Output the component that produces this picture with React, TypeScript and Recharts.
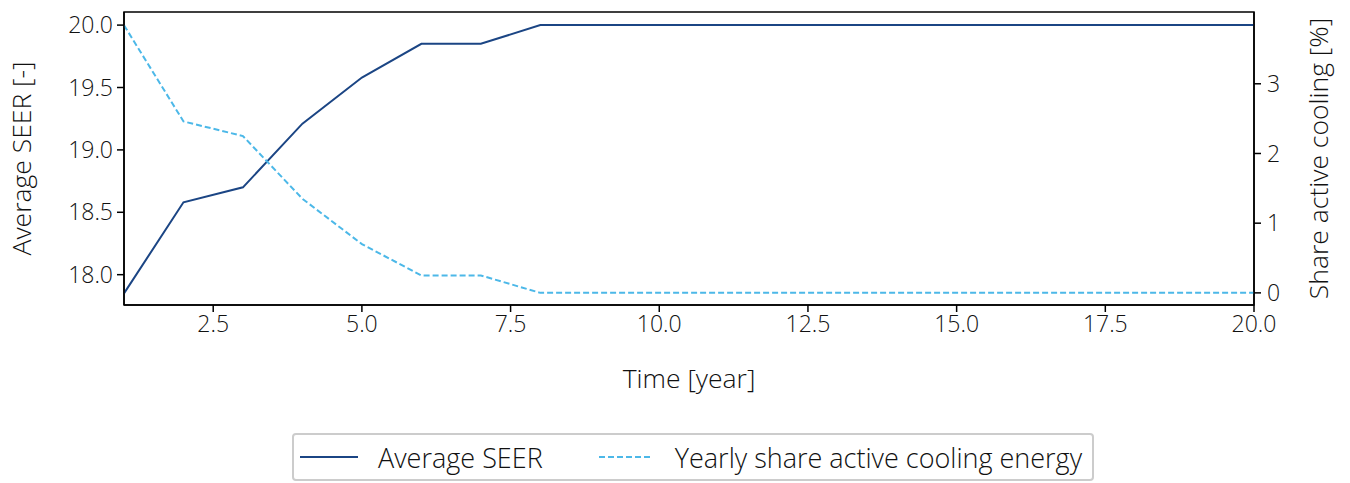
import {
  LineChart,
  Line,
  XAxis,
  YAxis,
  Legend,
  ReferenceArea,
} from "recharts";

const years = [1, 2, 3, 4, 5, 6, 7, 8, 9, 10, 11, 12, 13, 14, 15, 16, 17, 18, 19, 20];
const avgSeer = [17.85, 18.58, 18.7, 19.21, 19.58, 19.85, 19.85, 20, 20, 20, 20, 20, 20, 20, 20, 20, 20, 20, 20, 20];
const coolingShare = [3.84, 2.46, 2.25, 1.35, 0.7, 0.25, 0.25, 0, 0, 0, 0, 0, 0, 0, 0, 0, 0, 0, 0, 0];

const xTicks = [2.5, 5, 7.5, 10, 12.5, 15, 17.5, 20];
const leftTicks = [18, 18.5, 19, 19.5, 20];
const rightTicks = [0, 1, 2, 3];

const data = years.map((year, i) => ({
  year,
  seer: avgSeer[i],
  share: coolingShare[i],
}));

const FONT = "'Open Sans', 'DejaVu Sans', sans-serif";
const DARK = "#1b4584";
const LIGHT = "#4cb8e8";
const tickStyle = { fontSize: 23, fill: "#111", fontFamily: FONT, fontWeight: 300 };
const labelStyle = { ...tickStyle, fontSize: 26.5, textAnchor: "middle" as const };

const LegendBox = () => (
  <div
    style={{
      display: "flex",
      alignItems: "center",
      boxSizing: "border-box",
      height: 48,
      border: "2px solid #ccc",
      borderRadius: 4,
      padding: "0 10px 0 6px",
      fontFamily: FONT,
      fontWeight: 300,
      fontSize: 27,
      color: "#111",
      background: "#fff",
      width: "fit-content",
      whiteSpace: "nowrap",
    }}
  >
    <svg width={58} height={10}>
      <line x1={0} y1={5} x2={58} y2={5} stroke={DARK} strokeWidth={2} />
    </svg>
    <span style={{ marginLeft: 20, marginRight: 56 }}>Average SEER</span>
    <svg width={54} height={10}>
      <line x1={0} y1={5} x2={54} y2={5} stroke={LIGHT} strokeWidth={2} strokeDasharray="6 3" />
    </svg>
    <span style={{ marginLeft: 22 }}>Yearly share active cooling energy</span>
  </div>
);

const App = () => {
  return (
    <div style={{ position: "fixed", left: 0, top: 0, background: "#fff" }}>
      <LineChart
        width={1350}
        height={483}
        data={data}
        margin={{ top: 12, right: 0, left: 0, bottom: 0 }}
      >
        <XAxis
          dataKey="year"
          type="number"
          domain={[1, 20]}
          ticks={xTicks}
          tickFormatter={(v: number) => v.toFixed(1)}
          tick={tickStyle}
          tickSize={7}
          tickMargin={4}
          axisLine={{ stroke: "#000", strokeWidth: 1.5 }}
          tickLine={{ stroke: "#000", strokeWidth: 1.5 }}
          height={130}
          allowDataOverflow
          label={{
            value: "Time [year]",
            position: "insideTop",
            offset: 64,
            style: labelStyle,
          }}
        />
        <YAxis
          yAxisId="left"
          domain={[17.757, 20.105]}
          ticks={leftTicks}
          tickFormatter={(v: number) => v.toFixed(1)}
          tick={tickStyle}
          tickSize={7}
          tickMargin={4}
          width={124}
          allowDataOverflow
          axisLine={{ stroke: "#000", strokeWidth: 1.5 }}
          tickLine={{ stroke: "#000", strokeWidth: 1.5 }}
          label={{
            value: "Average SEER [-]",
            angle: -90,
            position: "insideLeft",
            offset: 22,
            style: labelStyle,
          }}
        />
        <YAxis
          yAxisId="right"
          orientation="right"
          domain={[-0.174, 4.03]}
          ticks={rightTicks}
          tick={tickStyle}
          tickSize={7}
          tickMargin={6}
          width={96}
          allowDataOverflow
          axisLine={{ stroke: "#000", strokeWidth: 1.5 }}
          tickLine={{ stroke: "#000", strokeWidth: 1.5 }}
          label={{
            value: "Share active cooling [%]",
            angle: -90,
            position: "insideRight",
            offset: 31,
            style: labelStyle,
          }}
        />
        <ReferenceArea
          yAxisId="left"
          x1={1}
          x2={20}
          y1={17.757}
          y2={20.105}
          fill="none"
          stroke="#000"
          strokeWidth={1.5}
          ifOverflow="visible"
        />
        <Line
          yAxisId="left"
          dataKey="seer"
          name="Average SEER"
          stroke={DARK}
          strokeWidth={2}
          dot={false}
          isAnimationActive={false}
        />
        <Line
          yAxisId="right"
          dataKey="share"
          name="Yearly share active cooling energy"
          stroke={LIGHT}
          strokeWidth={2}
          strokeDasharray="6 3"
          dot={false}
          isAnimationActive={false}
        />
        <Legend
          content={() => <LegendBox />}
          wrapperStyle={{ position: "absolute", top: 433, left: 292, width: "auto" }}
        />
      </LineChart>
    </div>
  );
};

export default App;
